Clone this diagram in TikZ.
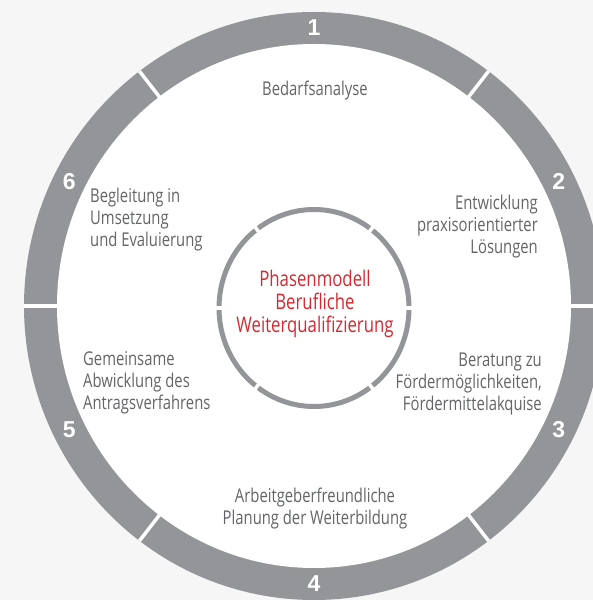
\documentclass[tikz,border=0pt]{standalone}
\usepackage{fontspec}
\setmainfont{Open Sans}[FakeStretch=0.78]
\newfontfamily\numfont{Liberation Sans}
\definecolor{bggray}{HTML}{F6F6F6}
\definecolor{ringgray}{HTML}{939598}
\definecolor{txtgray}{HTML}{646569}
\definecolor{titlered}{HTML}{D7282F}
\tikzset{
  phasetext/.style={text=txtgray, font=\fontsize{19}{22}\selectfont, inner sep=0pt},
  numlabel/.style={text=white, font=\numfont\bfseries\fontsize{23}{23}\selectfont, inner sep=0pt},
  titletext/.style={text=titlered, font=\fontsize{21.5}{23}\selectfont, align=center, inner sep=0pt}
}
\begin{document}
\begin{tikzpicture}[x=1pt,y=1pt]
% --- Parameters ---
\def\cx{314}       % centre of the rings
\def\cy{294}
\def\rOutX{290}    % outer ring, x/y radius
\def\rOutY{294}
\def\rInX{257}     % inner edge of outer ring
\def\rInY{262}
\def\rSmX{95}      % small ring round the title
\def\rSmY{98.5}
\pgfmathsetmacro{\rMidX}{0.5*(\rOutX+\rInX)}
\pgfmathsetmacro{\rMidY}{0.5*(\rOutY+\rInY)}
\useasboundingbox (0,0) rectangle (593,600);
\clip (0,0) rectangle (593,600);
\fill[bggray] (0,0) rectangle (593,600);
% --- Outer ring with six segments ---
\begin{scope}[shift={(\cx,\cy)}]
  \fill[ringgray] (0,0) ellipse [x radius=\rOutX, y radius=\rOutY];
  \fill[white] (0,0) ellipse [x radius=\rInX, y radius=\rInY];
  \foreach \a in {0,53,127,180,233,307}
    \draw[white, line width=3.5pt] (\a:{\rInX-2} and {\rInY-2}) -- (\a:{\rOutX} and {\rOutY});
  % phase numbers, in the middle of each segment
  \foreach \a/\n in {90/1, 26.5/2, -26.5/3, -90/4, 206.5/5, 153.5/6}
    \node[numlabel] (num\n) at (\a:{\rMidX} and {\rMidY}) {\n};
\end{scope}
% --- Small ring round the title ---
\begin{scope}[shift={(\cx,292)}]
  \draw[ringgray, line width=5pt] (0,0) ellipse [x radius=\rSmX, y radius=\rSmY];
  \foreach \a in {0,53,127,180,233,307}
    \draw[white, line width=3.5pt] (\a:{\rSmX-6} and {\rSmY-6}) -- (\a:{\rSmX+6} and {\rSmY+6});
\end{scope}
% --- Texts ---
\node[titletext] (title) at (315,296) {Phasenmodell\\Berufliche\\Weiterqualifizierung};
\node[phasetext] (bedarf) at (315,509) {Bedarfsanalyse};
\node[phasetext, align=right, anchor=east] (entw) at (538,373) {Entwicklung\\praxisorientierter\\Lösungen};
\node[phasetext, align=right, anchor=east] (berat) at (542,216) {Beratung zu\\Fördermöglichkeiten,\\Fördermittelakquise};
\node[phasetext, align=center] (planung) at (315,91) {Arbeitgeberfreundliche\\Planung der Weiterbildung};
\node[phasetext, align=left, anchor=west] (abwickl) at (83,217) {Gemeinsame\\Abwicklung des\\Antragsverfahrens};
\node[phasetext, align=left, anchor=west] (begleit) at (90,380) {Begleitung in\\Umsetzung\\und Evaluierung};
\end{tikzpicture}
\end{document}
